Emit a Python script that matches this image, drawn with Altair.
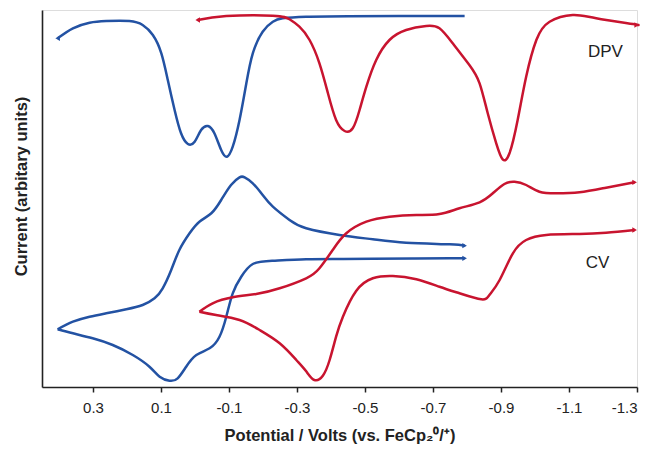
import altair as alt
import pandas as pd

# ---- data (potential in V vs FeCp2, current in arbitrary units) ----
blue_dpv_v = [0.404, 0.359, 0.310, 0.261, 0.193, 0.154, 0.124, 0.099, 0.080, 0.060, 0.041, 0.021,
              0.001, -0.018, -0.038, -0.057, -0.077, -0.094, -0.111, -0.131, -0.151, -0.170,
              -0.199, -0.229, -0.258, -0.327, -0.450, -0.600, -0.749, -0.793]
blue_dpv_i = [348.7, 358.7, 364.3, 366.0, 366.0, 362.0, 352.0, 333.7, 307.0, 277.0, 253.7, 243.0,
              245.3, 257.0, 261.0, 253.7, 237.0, 230.3, 240.3, 267.0, 303.7, 333.7,
              355.3, 365.3, 368.7, 370.3, 370.8, 371.0, 371.0, 371.0]

red_dpv_v = [-0.008, -0.092, -0.229, -0.278, -0.307, -0.337, -0.366, -0.391, -0.415, -0.440,
             -0.464, -0.484, -0.504, -0.533, -0.572, -0.621, -0.680, -0.719, -0.758, -0.807,
             -0.837, -0.861, -0.886, -0.905, -0.925, -0.949, -0.974, -1.004, -1.043, -1.111,
             -1.180, -1.288, -1.299]
red_dpv_i = [367.0, 371.0, 371.3, 367.7, 360.3, 347.0, 323.7, 293.7, 267.0, 256.0,
             258.7, 277.0, 300.3, 327.0, 347.0, 357.0, 361.0, 358.7, 343.7, 322.0,
             303.7, 273.7, 243.7, 227.7, 233.7, 267.0, 310.3, 347.0, 365.3, 372.0,
             368.7, 363.0, 362.0]

# blue CV: anodic (upper) branch and cathodic (lower) branch, both from the switching vertex
blue_cv_up_v = [0.404, 0.359, 0.310, 0.261, 0.202, 0.154, 0.119, 0.095, 0.070, 0.046, 0.016,
                -0.013, -0.048, -0.077, -0.106, -0.131, -0.146, -0.170, -0.199, -0.229,
                -0.278, -0.327, -0.425, -0.523, -0.621, -0.749, -0.793]
blue_cv_up_i = [57.7, 65.3, 70.3, 73.7, 77.7, 82.0, 88.7, 98.7, 117.0, 137.0, 153.7,
                165.3, 173.7, 187.0, 202.0, 209.7, 209.7, 203.7, 192.0, 180.3,
                167.0, 158.7, 152.0, 147.7, 144.3, 142.7, 141.3]
blue_cv_low_v = [0.404, 0.359, 0.301, 0.242, 0.183, 0.134, 0.104, 0.075, 0.051, 0.026, -0.004,
                 -0.043, -0.072, -0.092, -0.111, -0.136, -0.170, -0.229, -0.327, -0.425, -0.523,
                 -0.640, -0.749, -0.793]
blue_cv_low_i = [57.7, 53.7, 48.7, 42.0, 32.0, 20.3, 10.3, 6.3, 8.7, 20.3, 32.0,
                 38.7, 50.3, 70.3, 93.7, 110.3, 123.0, 126.3, 127.7, 128.0, 128.3,
                 128.5, 128.7, 128.7]

# red CV
red_cv_up_v = [-0.013, -0.052, -0.111, -0.180, -0.249, -0.327, -0.366, -0.405, -0.445, -0.504,
               -0.572, -0.651, -0.719, -0.778, -0.837, -0.876, -0.910, -0.940, -0.974, -1.013,
               -1.062, -1.131, -1.209, -1.293]
red_cv_up_i = [75.3, 83.7, 89.7, 93.0, 98.7, 108.7, 118.7, 137.0, 153.7, 165.3,
               170.3, 172.0, 173.0, 178.7, 184.7, 193.7, 203.0, 205.3, 202.0, 195.3,
               193.7, 194.7, 199.3, 204.7]
red_cv_low_v = [-0.013, -0.062, -0.131, -0.190, -0.249, -0.298, -0.327, -0.351, -0.376, -0.396,
                -0.415, -0.435, -0.474, -0.523, -0.582, -0.651, -0.719, -0.778, -0.842, -0.866,
                -0.896, -0.935, -0.974, -1.033, -1.131, -1.209, -1.293]
red_cv_low_i = [75.3, 72.0, 67.0, 57.0, 43.7, 27.0, 15.7, 7.0, 11.3, 27.0,
                50.3, 70.3, 96.0, 108.7, 111.0, 107.7, 100.3, 93.7, 87.7, 92.0,
                107.0, 133.7, 147.0, 152.0, 153.0, 154.3, 157.0]

x_ticks = [0.3, 0.1, -0.1, -0.3, -0.5, -0.7, -0.9, -1.1, -1.3]
label_text = ["DPV", "CV"]
label_v = [-1.207, -1.184]
label_i = [335.0, 124.0]

BLUE = "#2352a3"
RED = "#c8142f"

rows = []
def add(name, color, vs, cs):
    for k, (v, c) in enumerate(zip(vs, cs)):
        rows.append({"seg": name, "col": color, "V": v, "I": c, "k": k})

add("blue_dpv", "blue", blue_dpv_v, blue_dpv_i)
add("red_dpv", "red", red_dpv_v, red_dpv_i)
add("blue_cv_up", "blue", blue_cv_up_v, blue_cv_up_i)
add("blue_cv_low", "blue", blue_cv_low_v, blue_cv_low_i)
add("red_cv_up", "red", red_cv_up_v, red_cv_up_i)
add("red_cv_low", "red", red_cv_low_v, red_cv_low_i)
df = pd.DataFrame(rows)

# arrowheads at sweep ends
arrows = pd.DataFrame([
    {"V": blue_dpv_v[0], "I": blue_dpv_i[0], "col": "blue", "shape": "triangle-left"},
    {"V": red_dpv_v[0], "I": red_dpv_i[0], "col": "red", "shape": "triangle-left"},
    {"V": red_dpv_v[-1], "I": red_dpv_i[-1], "col": "red", "shape": "triangle-right"},
    {"V": blue_cv_up_v[-1], "I": blue_cv_up_i[-1], "col": "blue", "shape": "triangle-right"},
    {"V": blue_cv_low_v[-1], "I": blue_cv_low_i[-1], "col": "blue", "shape": "triangle-right"},
    {"V": red_cv_up_v[-1], "I": red_cv_up_i[-1], "col": "red", "shape": "triangle-right"},
    {"V": red_cv_low_v[-1], "I": red_cv_low_i[-1], "col": "red", "shape": "triangle-right"},
])

labels = pd.DataFrame({"t": label_text, "V": label_v, "I": label_i})

xscale = alt.Scale(domain=[0.45, -1.3], nice=False, zero=False)
yscale = alt.Scale(domain=[0, 377], nice=False, zero=False)
cscale = alt.Scale(domain=["blue", "red"], range=[BLUE, RED])

x_enc = alt.X("V:Q", scale=xscale,
              axis=alt.Axis(values=x_ticks,
                            labelExpr="datum.value < 0 ? '-' + format(-datum.value, '.1f') : format(datum.value, '.1f')",
                            title="Potential / Volts (vs. FeCp₂⁰/⁺)",
                            grid=False, domainColor="#222", domainWidth=1.6,
                            tickColor="#222", tickWidth=1.5, tickSize=5,
                            labelFont="Liberation Sans", labelFontSize=15, labelColor="#222",
                            labelPadding=8,
                            titleFont="Liberation Sans", titleFontSize=16.5, titleFontWeight="bold",
                            titleColor="#222", titlePadding=12))
y_enc = alt.Y("I:Q", scale=yscale,
              axis=alt.Axis(title="Current (arbitary units)", labels=False, ticks=False, grid=False,
                            domainColor="#222", domainWidth=1.6,
                            titleFont="Liberation Sans", titleFontSize=16.5, titleFontWeight="bold",
                            titleColor="#222", titlePadding=13, titleY=176))

lines = alt.Chart(df).mark_line(strokeWidth=2.5, interpolate="natural").encode(
    x=x_enc, y=y_enc,
    color=alt.Color("col:N", scale=cscale, legend=None),
    detail="seg:N",
    order="k:Q",
)

heads = alt.Chart(arrows).mark_point(filled=True, size=28, opacity=1).encode(
    x=alt.X("V:Q", scale=xscale),
    y=alt.Y("I:Q", scale=yscale),
    color=alt.Color("col:N", scale=cscale, legend=None),
    shape=alt.Shape("shape:N", scale=None, legend=None),
)

text = alt.Chart(labels).mark_text(font="Liberation Sans", fontSize=17, color="#222").encode(
    x=alt.X("V:Q", scale=xscale),
    y=alt.Y("I:Q", scale=yscale),
    text="t:N",
)

chart = alt.layer(lines, heads, text).properties(
    width=595, height=377,
    autosize=alt.AutoSizeParams(type="none"),
    padding={"left": 42, "top": 10, "right": 15, "bottom": 62},
).configure_view(stroke=None).configure(background="white")

chart.save("out.html", embed_options={"renderer": "svg", "actions": False})
